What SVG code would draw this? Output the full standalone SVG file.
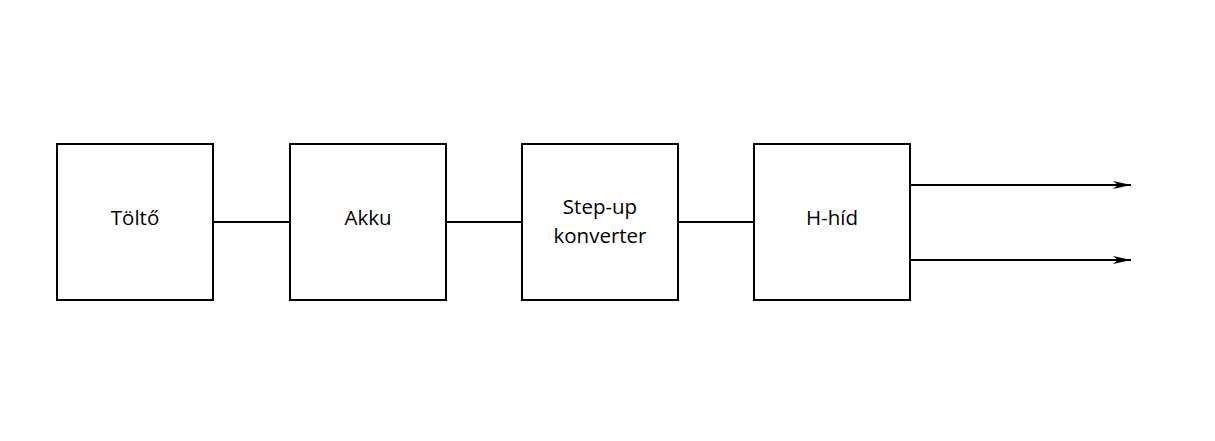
<svg xmlns="http://www.w3.org/2000/svg" width="1215" height="441" viewBox="0 0 1215 441">
<style>
.box{fill:#fff;stroke:#000;stroke-width:2}
.lbl{font-family:"Open Sans","Liberation Sans",sans-serif;font-size:20.5px;fill:#000;text-anchor:middle}
.wire{stroke:#000;stroke-width:2;fill:none}
</style>
<defs>
<marker id="arr" viewBox="0 0 18 8" refX="18" refY="4" markerWidth="18" markerHeight="8" markerUnits="userSpaceOnUse" orient="auto">
<path d="M0,0 L18,4 L0,8 L5,4 Z" fill="#000"/>
</marker>
</defs>
<rect width="1215" height="441" fill="#fff"/>
<g id="connectors">
<line class="wire" x1="213" y1="222" x2="290" y2="222"/>
<line class="wire" x1="446" y1="222" x2="522" y2="222"/>
<line class="wire" x1="678" y1="222" x2="754" y2="222"/>
<line class="wire" x1="910" y1="185" x2="1131" y2="185" marker-end="url(#arr)"/>
<line class="wire" x1="910" y1="260" x2="1131" y2="260" marker-end="url(#arr)"/>
</g>
<g id="tolto"><rect class="box" x="57" y="144" width="156" height="156"/><text class="lbl" x="135" y="225">Töltő</text></g>
<g id="akku"><rect class="box" x="290" y="144" width="156" height="156"/><text class="lbl" x="368" y="225">Akku</text></g>
<g id="stepup"><rect class="box" x="522" y="144" width="156" height="156"/><text class="lbl" x="600" y="214">Step-up</text><text class="lbl" x="600" y="243">konverter</text></g>
<g id="hhid"><rect class="box" x="754" y="144" width="156" height="156"/><text class="lbl" x="832" y="225">H-híd</text></g>
</svg>
